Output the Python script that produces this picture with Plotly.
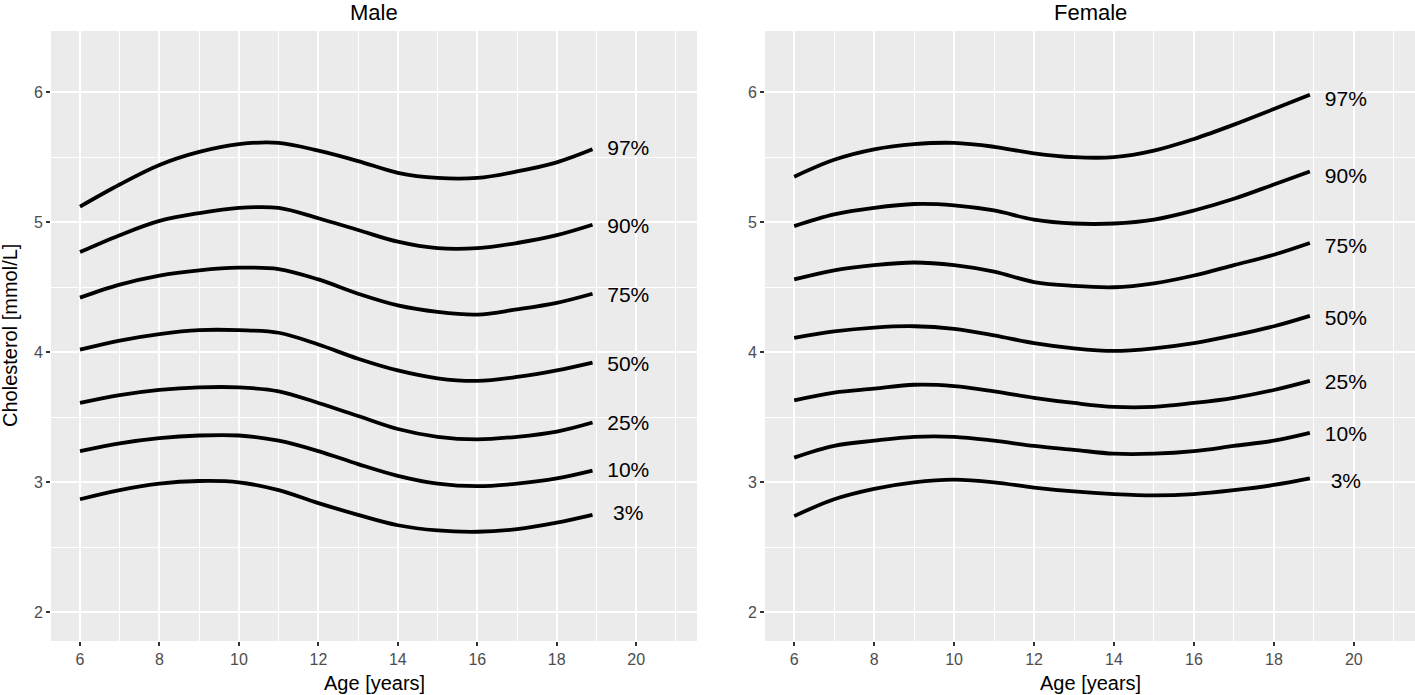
import plotly.graph_objects as go

W, H = 1415, 695

ages = [6, 7, 8, 9, 10, 11, 12, 13, 14, 15, 16, 17, 18, 18.9]
centiles = ["97%", "90%", "75%", "50%", "25%", "10%", "3%"]

male_97 = [5.12, 5.29, 5.44, 5.54, 5.60, 5.61, 5.55, 5.47, 5.38, 5.34, 5.34, 5.39, 5.46, 5.56]
male_90 = [4.77, 4.90, 5.01, 5.07, 5.11, 5.11, 5.03, 4.94, 4.85, 4.80, 4.80, 4.84, 4.90, 4.98]
male_75 = [4.42, 4.52, 4.59, 4.63, 4.65, 4.64, 4.56, 4.45, 4.36, 4.31, 4.29, 4.33, 4.38, 4.45]
male_50 = [4.02, 4.09, 4.14, 4.17, 4.17, 4.15, 4.06, 3.95, 3.86, 3.80, 3.78, 3.81, 3.86, 3.92]
male_25 = [3.61, 3.67, 3.71, 3.73, 3.73, 3.70, 3.61, 3.51, 3.41, 3.35, 3.33, 3.35, 3.39, 3.46]
male_10 = [3.24, 3.30, 3.34, 3.36, 3.36, 3.32, 3.24, 3.14, 3.05, 2.99, 2.97, 2.99, 3.03, 3.09]
male_03 = [2.87, 2.94, 2.99, 3.01, 3.00, 2.94, 2.84, 2.75, 2.67, 2.63, 2.62, 2.64, 2.69, 2.75]

female_97 = [5.35, 5.48, 5.56, 5.60, 5.61, 5.58, 5.53, 5.50, 5.50, 5.55, 5.64, 5.75, 5.87, 5.98]
female_90 = [4.97, 5.06, 5.11, 5.14, 5.13, 5.09, 5.02, 4.99, 4.99, 5.02, 5.09, 5.18, 5.29, 5.39]
female_75 = [4.56, 4.63, 4.67, 4.69, 4.67, 4.62, 4.54, 4.51, 4.50, 4.53, 4.59, 4.67, 4.75, 4.84]
female_50 = [4.11, 4.16, 4.19, 4.20, 4.18, 4.13, 4.07, 4.03, 4.01, 4.03, 4.07, 4.13, 4.20, 4.28]
female_25 = [3.63, 3.69, 3.72, 3.75, 3.74, 3.70, 3.65, 3.61, 3.58, 3.58, 3.61, 3.65, 3.71, 3.78]
female_10 = [3.19, 3.28, 3.32, 3.35, 3.35, 3.32, 3.28, 3.25, 3.22, 3.22, 3.24, 3.28, 3.32, 3.38]
female_03 = [2.74, 2.87, 2.95, 3.00, 3.02, 3.00, 2.96, 2.93, 2.91, 2.90, 2.91, 2.94, 2.98, 3.03]

label_age = 19.8
male_label_y = [5.56, 4.96, 4.43, 3.90, 3.44, 3.08, 2.75]
female_label_y = [5.93, 5.34, 4.80, 4.25, 3.76, 3.36, 3.00]

x_ticks = [6, 8, 10, 12, 14, 16, 18, 20]
y_ticks = [2, 3, 4, 5, 6]

male = [male_97, male_90, male_75, male_50, male_25, male_10, male_03]
female = [female_97, female_90, female_75, female_50, female_25, female_10, female_03]

FONT = "Liberation Sans, Arial, sans-serif"
fig = go.Figure()

for series, xa, ya in [(male, "x", "y"), (female, "x2", "y2")]:
    for vals in series:
        fig.add_trace(go.Scatter(
            x=ages, y=vals, mode="lines", xaxis=xa, yaxis=ya,
            line=dict(color="black", width=3.8, shape="spline", smoothing=1.0),
            showlegend=False, hoverinfo="skip",
        ))

for ly, xa, ya in [(male_label_y, "x", "y"), (female_label_y, "x2", "y2")]:
    fig.add_trace(go.Scatter(
        x=[label_age] * len(centiles), y=ly, text=centiles, mode="text",
        textposition="middle center", xaxis=xa, yaxis=ya,
        textfont=dict(family=FONT, size=21, color="black"),
        showlegend=False, hoverinfo="skip",
    ))

xdom1 = [51 / W, 697 / W]
xdom2 = [765 / W, 1.0]
ydom = [1 - 641 / H, 1 - 31 / H]

axis_common = dict(
    showgrid=True, gridcolor="white", gridwidth=2, zeroline=False,
    ticks="outside", ticklen=4, tickwidth=1.5, tickcolor="#333333",
    tickfont=dict(family=FONT, size=16, color="#4d4d4d"),
    showline=False,
)
xaxis_extra = dict(range=[5.27, 21.53], tickvals=x_ticks,
                   minor=dict(dtick=1, tick0=5, showgrid=True, gridcolor="white",
                              gridwidth=1.1, ticks=""))
yaxis_extra = dict(range=[1.78, 6.47], tickvals=y_ticks,
                   minor=dict(dtick=0.5, tick0=1.5, showgrid=True, gridcolor="white",
                              gridwidth=1.1, ticks=""))

fig.update_layout(
    width=W, height=H,
    margin=dict(l=0, r=0, t=0, b=0),
    paper_bgcolor="white", plot_bgcolor="#EBEBEB",
    xaxis=dict(domain=xdom1, anchor="y", **axis_common, **xaxis_extra),
    yaxis=dict(domain=ydom, anchor="x", **axis_common, **yaxis_extra),
    xaxis2=dict(domain=xdom2, anchor="y2", **axis_common, **xaxis_extra),
    yaxis2=dict(domain=ydom, anchor="x2", **axis_common, **yaxis_extra),
)

ann_font = dict(family=FONT, size=20, color="black")
for text, dom in [("Male", xdom1), ("Female", xdom2)]:
    cx = (dom[0] + dom[1]) / 2
    fig.add_annotation(text=text, xref="paper", yref="paper", x=cx, y=1 - 12 / H,
                       xanchor="center", yanchor="middle", showarrow=False,
                       font=dict(family=FONT, size=22, color="black"))
    fig.add_annotation(text="Age [years]", xref="paper", yref="paper", x=cx,
                       y=1 - 683 / H, xanchor="center", yanchor="middle",
                       showarrow=False, font=ann_font)

fig.add_annotation(text="Cholesterol [mmol/L]", xref="paper", yref="paper",
                   x=10 / W, y=1 - 336 / H, xanchor="center", yanchor="middle",
                   textangle=-90, showarrow=False, font=ann_font)

# page body has a default 8px margin; drop it so the figure fills the window
fig.write_html("out.html", config={"displayModeBar": False},
               post_script="document.body.style.margin='0';")
